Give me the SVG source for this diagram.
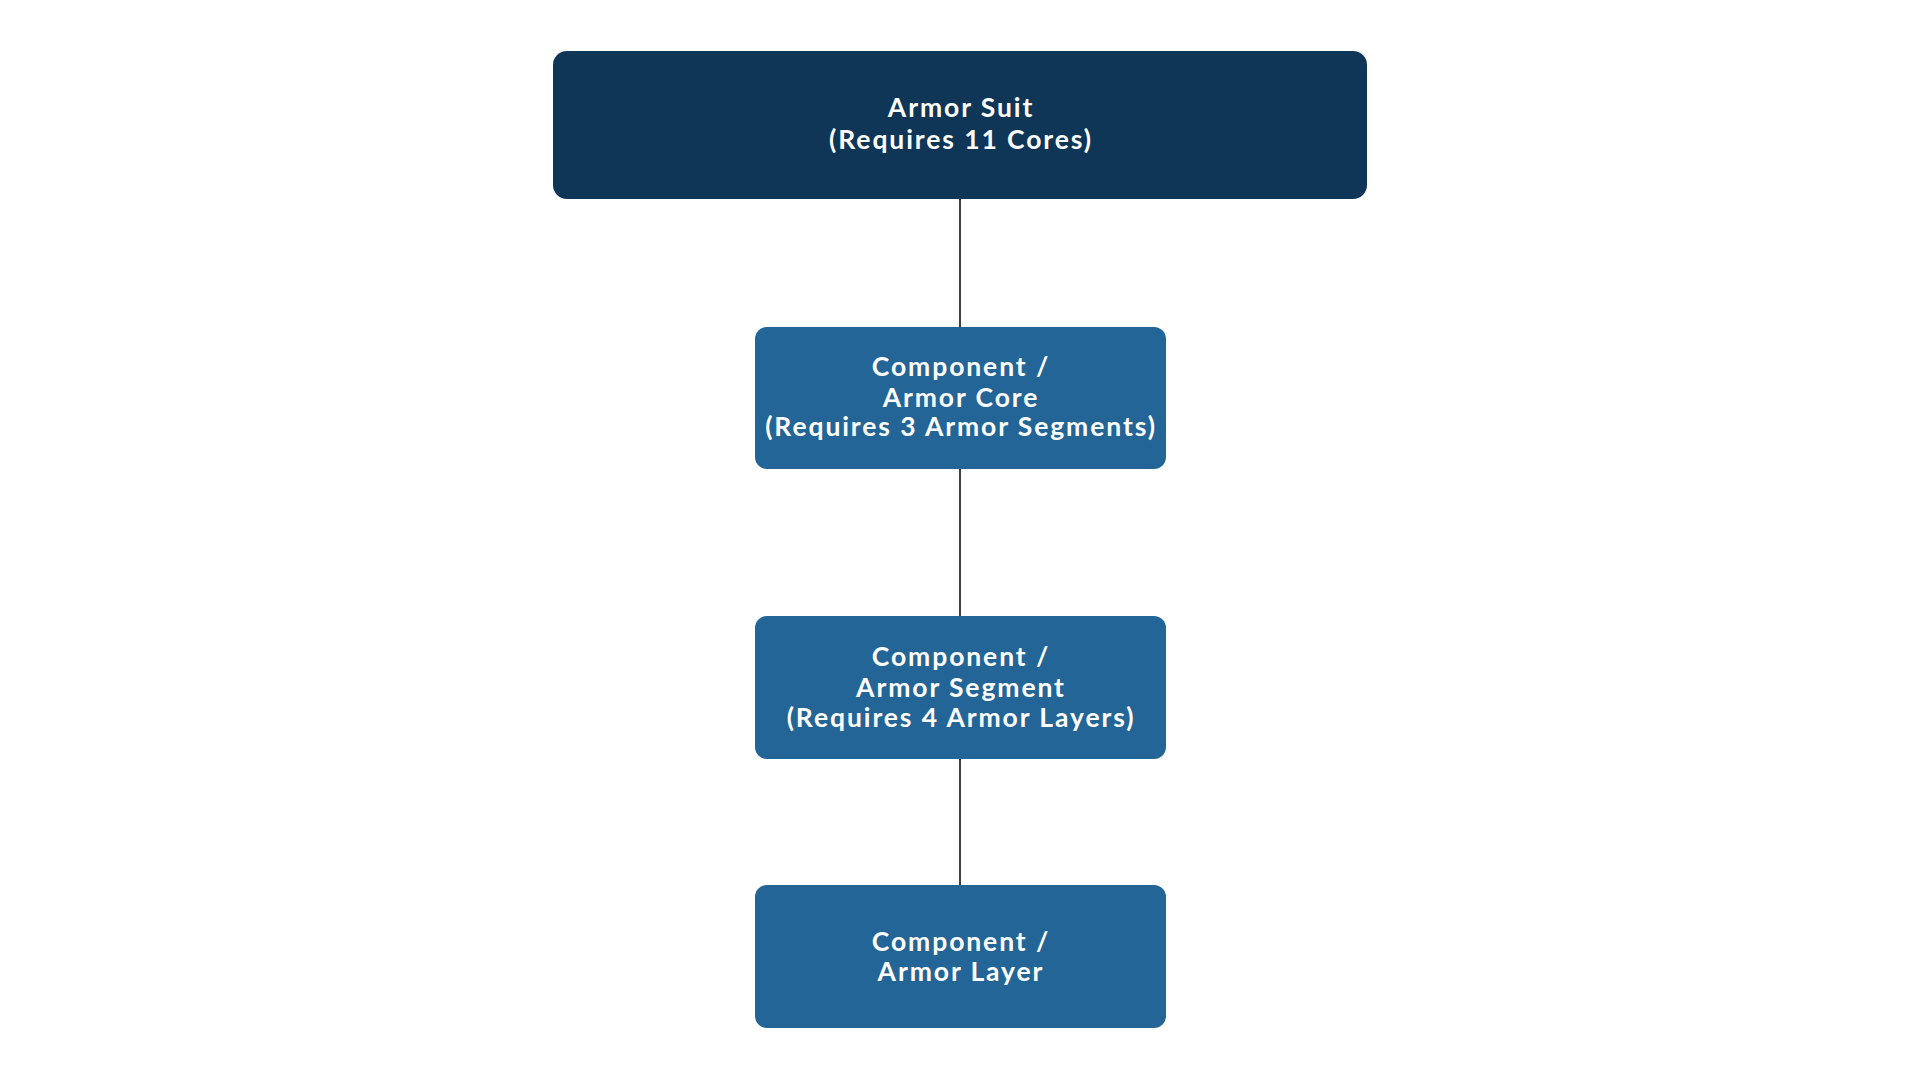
<svg xmlns="http://www.w3.org/2000/svg" width="1920" height="1080" viewBox="0 0 1920 1080">
<style>
.box{fill:#236596;}
.top{fill:#0F3656;}
.t{font-family:Lato,"Liberation Sans",sans-serif;font-weight:bold;font-size:26.5px;letter-spacing:1.9px;fill:#FFFFFF;text-anchor:middle;}
.c{stroke:#111111;stroke-width:1.6;fill:none;}
</style>
<rect width="1920" height="1080" fill="#FFFFFF"/>
<g id="connectors">
<line class="c" x1="960" y1="199" x2="960" y2="327"/>
<line class="c" x1="960" y1="469" x2="960" y2="616"/>
<line class="c" x1="960" y1="759" x2="960" y2="885"/>
</g>
<g id="armor-suit">
<rect class="top" x="553" y="51" width="814" height="148" rx="14"/>
<text class="t" x="961" y="117">Armor Suit</text>
<text class="t" x="961" y="149">(Requires 11 Cores)</text>
</g>
<g id="armor-core">
<rect class="box" x="755" y="327" width="411" height="142" rx="12"/>
<text class="t" x="961" y="376">Component /</text>
<text class="t" x="961" y="407">Armor Core</text>
<text class="t" x="961" y="436">(Requires 3 Armor Segments)</text>
</g>
<g id="armor-segment">
<rect class="box" x="755" y="616" width="411" height="143" rx="12"/>
<text class="t" x="961" y="666">Component /</text>
<text class="t" x="961" y="697">Armor Segment</text>
<text class="t" x="961" y="727">(Requires 4 Armor Layers)</text>
</g>
<g id="armor-layer">
<rect class="box" x="755" y="885" width="411" height="143" rx="12"/>
<text class="t" x="961" y="951">Component /</text>
<text class="t" x="961" y="981">Armor Layer</text>
</g>
</svg>
